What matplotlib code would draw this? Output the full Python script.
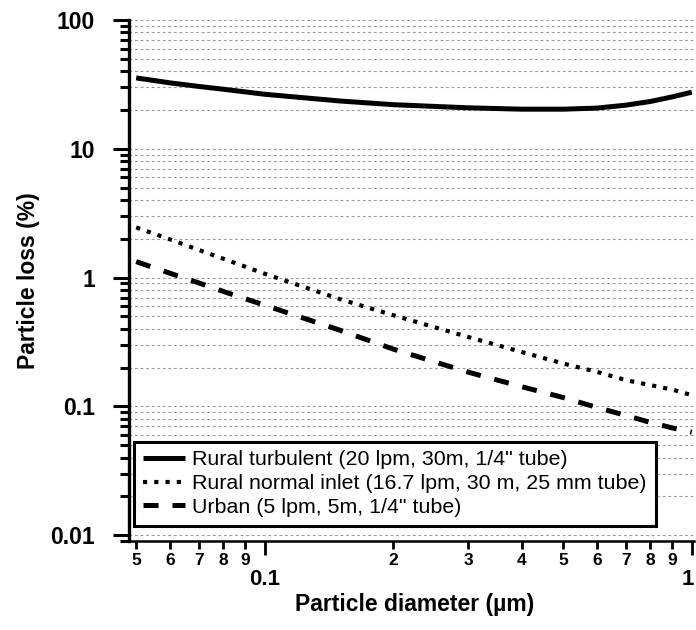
import matplotlib
matplotlib.use("Agg")
import matplotlib.pyplot as plt
import matplotlib.transforms as mtransforms
from matplotlib.ticker import FixedLocator, NullFormatter, FixedFormatter

plt.rcParams['font.family'] = ['Liberation Sans', 'DejaVu Sans']

diam = [0.05, 0.06, 0.07, 0.08, 0.1, 0.15, 0.2, 0.3, 0.4, 0.5, 0.6, 0.7, 0.8, 0.9, 1.0]
rural_turb = [35.5, 32.5, 30.5, 29.0, 26.5, 23.5, 22.0, 20.8, 20.3, 20.3, 20.7, 21.8, 23.3, 25.3, 27.5]
rural_norm = [2.45, 1.98, 1.64, 1.40, 1.07, 0.68, 0.51, 0.345, 0.264, 0.215, 0.185, 0.160, 0.146, 0.135, 0.122]
urban = [1.33, 1.08, 0.91, 0.78, 0.61, 0.39, 0.278, 0.184, 0.142, 0.117, 0.098, 0.085, 0.075, 0.068, 0.063]

labels = ['Rural turbulent (20 lpm, 30m, 1/4" tube)',
          'Rural normal inlet (16.7 lpm, 30 m, 25 mm tube)',
          'Urban (5 lpm, 5m, 1/4" tube)']

x_minor_ticks = [0.05, 0.06, 0.07, 0.08, 0.09, 0.2, 0.3, 0.4, 0.5, 0.6, 0.7, 0.8, 0.9]
x_minor_labels = ['5', '6', '7', '8', '9', '2', '3', '4', '5', '6', '7', '8', '9']
x_major_ticks = [0.1, 1.0]
x_major_labels = ['0.1', '1']
y_major_ticks = [0.01, 0.1, 1, 10, 100]
y_major_labels = ['0.01', '0.1', '1', '10', '100']

fig = plt.figure(figsize=(6.96, 6.30), dpi=100)
ax = fig.add_axes([129/696, 89/630, 565/696, 521/630])

ax.plot(diam, rural_turb, color='black', lw=3.6, solid_capstyle='butt', label=labels[0])
ax.plot(diam, rural_norm, color='black', lw=3.0, dashes=(1.0, 1.7), dash_capstyle='butt', label=labels[1])
ax.plot(diam, urban, color='black', lw=3.6, dashes=(3.0, 2.8), dash_capstyle='butt', label=labels[2])

ax.set_xscale('log')
ax.set_yscale('log')
ax.set_xlim(0.0481, 1.012)
ax.set_ylim(0.0090, 100)

# y ticks
ax.yaxis.set_major_locator(FixedLocator(y_major_ticks))
ax.yaxis.set_major_formatter(FixedFormatter(y_major_labels))
yminor = [m * 10.0**e for e in range(-3, 2) for m in range(2, 10)]
ax.yaxis.set_minor_locator(FixedLocator(yminor))
ax.yaxis.set_minor_formatter(NullFormatter())
ax.tick_params(axis='y', which='major', length=11.5, width=2.2, direction='out', labelsize=16.5, pad=13)
ax.tick_params(axis='y', which='minor', length=6.5, width=2.2, direction='out')
for t in ax.get_yticklabels():
    t.set_fontweight('bold')

# x ticks
ax.xaxis.set_major_locator(FixedLocator(x_major_ticks))
ax.xaxis.set_major_formatter(NullFormatter())
ax.xaxis.set_minor_locator(FixedLocator(x_minor_ticks))
ax.xaxis.set_minor_formatter(FixedFormatter(x_minor_labels))
ax.tick_params(axis='x', which='major', length=10, width=2.0, direction='out')
ax.tick_params(axis='x', which='minor', length=5.5, width=2.0, direction='out', labelsize=12.5, pad=3)
for t in ax.get_xticklabels(which='both'):
    t.set_fontweight('bold')

# major x labels (drawn as text so the right-most one stays inside the figure)
base = ax.get_xaxis_transform()
offsets = [0, -4]
for xv, lab, dx in zip(x_major_ticks, x_major_labels, offsets):
    tr = mtransforms.offset_copy(base, fig=fig, x=dx, y=0, units='dots')
    ax.text(xv, -0.054, lab, transform=tr, ha='center', va='top',
            fontsize=16, fontweight='bold', clip_on=False)

# grid
ax.grid(True, axis='y', which='both', color='#999999', lw=0.8, linestyle=(0, (2.5, 2.5)))
ax.set_axisbelow(True)

for s in ['top', 'right']:
    ax.spines[s].set_visible(False)
ax.spines['left'].set_linewidth(2.4)
ax.spines['bottom'].set_linewidth(1.8)

ax.set_xlabel('Particle diameter (µm)', fontsize=16.5, fontweight='bold')
ax.set_ylabel('Particle loss (%)', fontsize=16.5, fontweight='bold')
ax.xaxis.set_label_coords(0.505, -0.100)
ax.yaxis.set_label_coords(-0.158, 0.5)

leg = ax.legend(loc='lower left', bbox_to_anchor=(0.009, 0.029), borderaxespad=0,
                fontsize=15.4, frameon=True, fancybox=False, handlelength=1.95,
                handletextpad=0.35, labelspacing=0.22, borderpad=0.42)
leg.get_frame().set_edgecolor('black')
leg.get_frame().set_linewidth(2.2)
leg.get_frame().set_alpha(1)

fig.savefig('out.png', dpi=100)
